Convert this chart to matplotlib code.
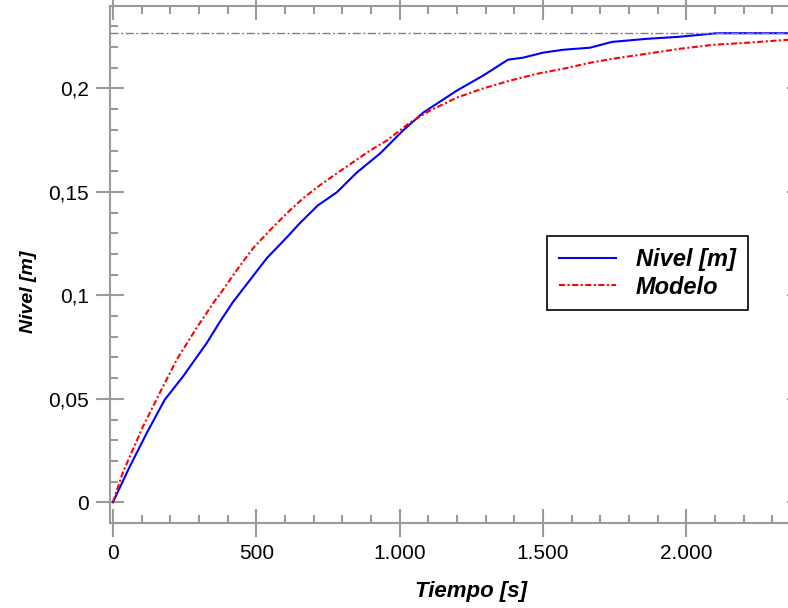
import matplotlib
matplotlib.use("Agg")
import matplotlib.pyplot as plt
from matplotlib.ticker import MultipleLocator, FixedLocator, FixedFormatter

plt.rcParams["font.family"] = ["Liberation Sans", "DejaVu Sans"]

t_nivel = [0, 59, 119, 181, 244, 328, 373, 419, 478, 537, 607, 652, 715, 781,
           851, 932, 1012, 1082, 1200, 1291, 1378, 1431, 1500, 1570, 1664,
           1741, 1863, 1978, 2083, 2110, 2400]
nivel = [0, 0.0173, 0.0337, 0.0496, 0.0607, 0.0771, 0.0872, 0.0968, 0.1074,
         0.118, 0.1281, 0.1349, 0.1435, 0.1498, 0.1594, 0.1686, 0.1797,
         0.1883, 0.199, 0.2062, 0.2139, 0.2149, 0.2173, 0.2187, 0.2197,
         0.2225, 0.224, 0.225, 0.2264, 0.2267, 0.2267]

# model curve
t_modelo = [0, 35, 105, 164, 223, 293, 356, 373, 432, 489, 548, 607, 663,
            722, 781, 837, 897, 956, 1036, 1106, 1200, 1291, 1385, 1479,
            1570, 1664, 1745, 1863, 1978, 2094, 2212, 2352, 2400]
modelo = [0, 0.0145, 0.0366, 0.053, 0.069, 0.0845, 0.0975, 0.1005, 0.1122,
          0.1228, 0.1315, 0.1397, 0.1469, 0.1532, 0.159, 0.1643, 0.17,
          0.1749, 0.1835, 0.1893, 0.1956, 0.2, 0.2038, 0.2071, 0.2095,
          0.2124, 0.2144, 0.2168, 0.2192, 0.2211, 0.2221, 0.2235, 0.2238]

nivel_final = 0.2267

x_ticks = [0, 500, 1000, 1500, 2000]
x_labels = ["0", "500", "1.000", "1.500", "2.000"]
y_ticks = [0, 0.05, 0.1, 0.15, 0.2]
y_labels = ["0", "0,05", "0,1", "0,15", "0,2"]

gray = "#9a9a9a"

fig = plt.figure(figsize=(7.88, 6.08), dpi=100)
ax = fig.add_axes([110 / 788, 85 / 608, 691 / 788, 517.3 / 608])

ax.plot(t_nivel, nivel, color="#0000ff", lw=1.5, label="Nivel [m]", zorder=3)
ax.plot(t_modelo, modelo, color="#ff0000", lw=1.5, label="Modelo",
        dashes=(2.9, 1.2, 1.0, 1.2), zorder=3)
ax.axhline(nivel_final, color="#808080", lw=1.0, dashes=(5.8, 1.8, 1.5, 1.8),
           zorder=4)

ax.set_xlim(-10, 2400)
ax.set_ylim(-0.01, 0.24)

ax.xaxis.set_major_locator(FixedLocator(x_ticks))
ax.xaxis.set_major_formatter(FixedFormatter(x_labels))
ax.xaxis.set_minor_locator(MultipleLocator(100))
ax.yaxis.set_major_locator(FixedLocator(y_ticks))
ax.yaxis.set_major_formatter(FixedFormatter(y_labels))
ax.yaxis.set_minor_locator(MultipleLocator(0.01))

ax.tick_params(which="major", direction="inout", length=20, width=1.5,
               color=gray, top=True, right=True, labelsize=15, pad=5)
ax.tick_params(which="minor", direction="in", length=5.5, width=1.5,
               color=gray, top=True, right=True)
for s in ax.spines.values():
    s.set_color(gray)
    s.set_linewidth(1.5)

ax.set_xlabel("Tiempo [s]", fontsize=16, fontweight="bold", fontstyle="italic")
ax.xaxis.set_label_coords(0.522, -0.112)
ax.set_ylabel("Nivel [m]", fontsize=14, fontweight="bold", fontstyle="italic")
ax.yaxis.set_label_coords(-0.105, 0.447)

leg = ax.legend(loc="upper left", bbox_to_anchor=(547 / 788, 1 - 236 / 608),
                bbox_transform=fig.transFigure, borderaxespad=0,
                prop={"size": 17, "weight": "bold", "style": "italic"},
                handlelength=2.42, handletextpad=0.85, borderpad=0.5,
                labelspacing=0.2, fancybox=False, framealpha=1)
leg.get_frame().set_edgecolor("black")
leg.get_frame().set_linewidth(1.2)

fig.savefig("out.png", dpi=100)
